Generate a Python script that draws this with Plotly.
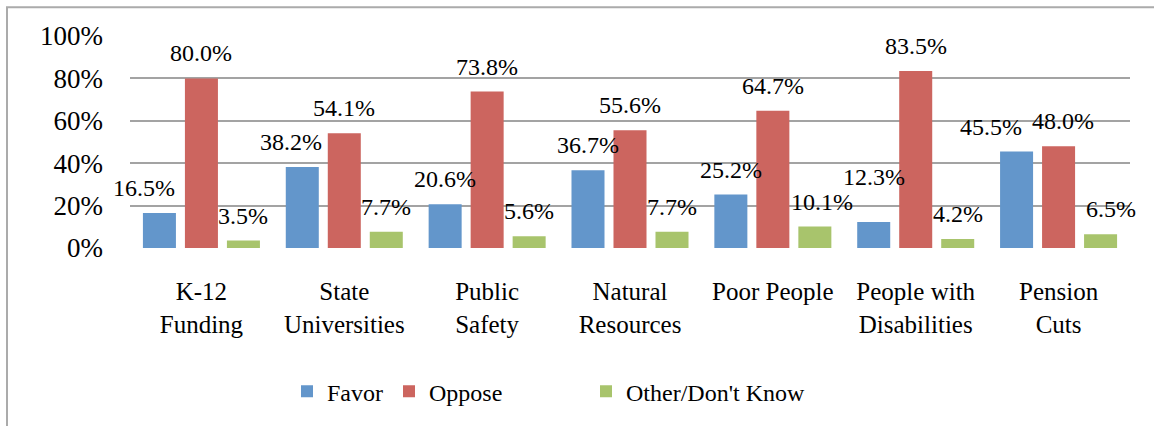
import plotly.graph_objects as go

categories = ["K-12<br>Funding", "State<br>Universities", "Public<br>Safety",
              "Natural<br>Resources", "Poor People", "People with<br>Disabilities",
              "Pension<br>Cuts"]
series_names = ["Favor", "Oppose", "Other/Don't Know"]
favor = [16.5, 38.2, 20.6, 36.7, 25.2, 12.3, 45.5]
oppose = [80.0, 54.1, 73.8, 55.6, 64.7, 83.5, 48.0]
other = [3.5, 7.7, 5.6, 7.7, 10.1, 4.2, 6.5]
y_ticks = [0, 20, 40, 60, 80, 100]

# styling (not data)
colors = ["#6396CB", "#CC655F", "#A8C46C"]
label_dx = [[-15, -11, 0, 0, 0, 0, -26],
            [0, 0, 0, 0, 0, 0, 4],
            [0, 0, 0, 0, 7, 0, 10]]
label_dy = [[0, 0, 0, 0, 0, 20, 0],
            [0, 0, 0, 0, 0, 0, 0],
            [0, 0, 0, 0, 0, 0, 0]]
FONT = "Liberation Serif"
bargap = 0.118
slot = (1 - bargap) / 3

xs = list(range(len(categories)))
all_series = [favor, oppose, other]
legends = ["legend", "legend2", "legend3"]

fig = go.Figure()
for k, (name, vals) in enumerate(zip(series_names, all_series)):
    fig.add_trace(go.Bar(x=xs, y=vals, name=name, marker_color=colors[k],
                         marker_line_width=0, legend=legends[k]))

annotations = []
for k, vals in enumerate(all_series):
    for i, v in enumerate(vals):
        annotations.append(dict(
            x=i + (k - 1) * slot, y=v, xref="x", yref="y",
            text=f"{v:.1f}%", showarrow=False, yanchor="middle",
            xshift=label_dx[k][i], yshift=25 + label_dy[k][i],
            font=dict(family=FONT, size=24, color="black")))

W, H = 1154, 426
ml, mr, mt, mb = 130, 24, 36, 176
pw, ph = W - ml - mr, H - mt - mb

def px_x(p):
    return (p - ml) / pw

def px_y(p):
    return (H - mb - p) / ph

leg_common = dict(orientation="h", yanchor="middle", xanchor="left",
                  font=dict(family=FONT, size=24, color="black"),
                  bgcolor="rgba(0,0,0,0)", borderwidth=0)

fig.update_layout(
    width=W, height=H,
    margin=dict(l=ml, r=mr, t=mt, b=mb),
    paper_bgcolor="white", plot_bgcolor="white",
    barmode="group", bargap=bargap, bargroupgap=0.214,
    font=dict(family=FONT, color="black"),
    annotations=annotations,
    showlegend=True,
    legend=dict(x=px_x(287), y=px_y(395), **leg_common),
    legend2=dict(x=px_x(389), y=px_y(395), **leg_common),
    legend3=dict(x=px_x(586), y=px_y(395), **leg_common),
    shapes=[dict(type="rect", xref="paper", yref="paper",
                 x0=px_x(7), x1=px_x(1170), y0=px_y(440), y1=px_y(7),
                 line=dict(color="#ABABAB", width=2), fillcolor="rgba(0,0,0,0)",
                 layer="below")],
    xaxis=dict(tickmode="array", tickvals=xs, ticktext=categories,
               range=[-0.5, len(categories) - 0.5], showgrid=False,
               zeroline=False, showline=False, ticks="",
               ticklabelstandoff=26,
               tickfont=dict(family=FONT, size=25, color="black")),
    yaxis=dict(range=[0, 100], tickmode="array", tickvals=y_ticks,
               ticktext=[f"{t}%" for t in y_ticks], showgrid=True,
               gridcolor="#A3A3A3", gridwidth=1.6, zeroline=False,
               showline=False, ticks="", ticklabelstandoff=26,
               tickfont=dict(family=FONT, size=27, color="black")),
)

fig.write_html("out.html", config={"displayModeBar": False},
               post_script="document.body.style.margin='0';document.body.style.overflow='hidden';")
